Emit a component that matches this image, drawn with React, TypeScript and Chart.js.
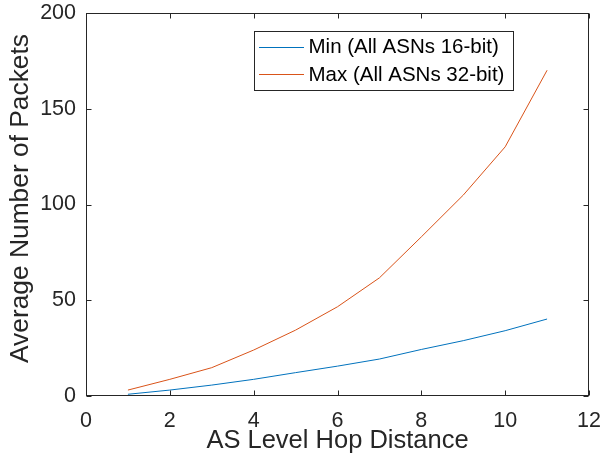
import React, { useEffect, useRef } from "react";
import { Chart, registerables } from "chart.js";

Chart.register(...registerables);

const hops = [1, 2, 3, 4, 5, 6, 7, 8, 9, 10, 11];
const minPackets = [0.9, 3.1, 5.7, 8.7, 12.2, 15.6, 19.3, 24.3, 28.9, 34.1, 40.2];
const maxPackets = [3.1, 8.7, 14.8, 24.0, 34.4, 46.6, 61.7, 83.1, 104.9, 130.1, 170.1];
const seriesLabels = ["Min (All ASNs 16-bit)", "Max (All ASNs 32-bit)"];
const seriesColors = ["#0072BD", "#D95319"];
const xTitle = "AS Level Hop Distance";
const yTitle = "Average Number of Packets";

const FONT = "'Liberation Sans', Arial, Helvetica, sans-serif";
const AX = "#262626";

const frameAndLegend = {
  id: "frameAndLegend",
  afterDraw(chart: any) {
    const ctx = chart.ctx;
    const a = chart.chartArea;
    const L = Math.round(a.left) + 0.5;
    const R = Math.round(a.right) - 0.5;
    const T = Math.round(a.top) + 0.5;
    const B = Math.round(a.bottom) - 0.5;
    ctx.save();
    ctx.strokeStyle = AX;
    ctx.lineWidth = 1;
    ctx.strokeRect(L, T, R - L, B - T);
    const tl = 5;
    const xs = chart.scales.x;
    const ys = chart.scales.y;
    ctx.beginPath();
    xs.ticks.forEach((t: any) => {
      const px = Math.round(xs.getPixelForValue(t.value)) + 0.5;
      ctx.moveTo(px, B);
      ctx.lineTo(px, B - tl);
      ctx.moveTo(px, T);
      ctx.lineTo(px, T + tl);
    });
    ys.ticks.forEach((t: any) => {
      const py = Math.round(ys.getPixelForValue(t.value)) + 0.5;
      ctx.moveTo(L, py);
      ctx.lineTo(L + tl, py);
      ctx.moveTo(R, py);
      ctx.lineTo(R - tl, py);
    });
    ctx.stroke();

    // y-axis title
    ctx.save();
    ctx.font = `26px ${FONT}`;
    ctx.fillStyle = AX;
    ctx.textAlign = "center";
    ctx.textBaseline = "alphabetic";
    const w = ctx.measureText(yTitle).width;
    const k = w > 0 ? Math.min(1.03, Math.max(0.97, 329 / w)) : 1;
    ctx.translate(27.5, 198.5);
    ctx.rotate(-Math.PI / 2);
    ctx.scale(k, 1);
    ctx.fillText(yTitle, 0, 0);
    ctx.restore();

    // legend box
    const bx = 254.5, by = 31.5, bw = 259, bh = 59;
    ctx.fillStyle = "#ffffff";
    ctx.fillRect(bx, by, bw, bh);
    ctx.strokeStyle = AX;
    ctx.strokeRect(bx, by, bw, bh);
    ctx.font = `20.5px ${FONT}`;
    ctx.textBaseline = "middle";
    ctx.textAlign = "left";
    chart.data.datasets.forEach((ds: any, i: number) => {
      const yy = 46.5 + i * 27.5;
      ctx.strokeStyle = ds.borderColor;
      ctx.lineWidth = 1;
      ctx.beginPath();
      ctx.moveTo(259, Math.round(yy) + 0.5);
      ctx.lineTo(304, Math.round(yy) + 0.5);
      ctx.stroke();
      ctx.fillStyle = "#000000";
      ctx.fillText(ds.label, 308.5, yy + 1);
    });
    ctx.restore();
  },
};

const zeroPad = (s: any) => {
  s.paddingTop = 0;
  s.paddingBottom = 0;
  s.paddingLeft = 0;
  s.paddingRight = 0;
};

export default function App() {
  const ref = useRef<HTMLCanvasElement | null>(null);
  useEffect(() => {
    if (!ref.current) return;
    const chart = new Chart(ref.current, {
      type: "line",
      data: {
        datasets: [
          {
            label: seriesLabels[0],
            data: hops.map((h, i) => ({ x: h, y: minPackets[i] })),
            borderColor: seriesColors[0],
            backgroundColor: seriesColors[0],
            borderWidth: 1,
            pointRadius: 0,
            tension: 0,
          },
          {
            label: seriesLabels[1],
            data: hops.map((h, i) => ({ x: h, y: maxPackets[i] })),
            borderColor: seriesColors[1],
            backgroundColor: seriesColors[1],
            borderWidth: 1,
            pointRadius: 0,
            tension: 0,
          },
        ],
      },
      options: {
        responsive: false,
        animation: false,
        layout: { autoPadding: false, padding: { top: 13, right: 21, left: 0, bottom: 0 } },
        plugins: {
          legend: { display: false },
          tooltip: { enabled: false },
        },
        scales: {
          x: {
            type: "linear",
            min: 0,
            max: 12,
            grid: { display: false, drawTicks: false },
            border: { display: false },
            ticks: {
              stepSize: 2,
              padding: 12,
              color: AX,
              font: { family: FONT, size: 21.5 },
              maxRotation: 0,
            },
            title: {
              display: true,
              text: xTitle,
              color: AX,
              font: { family: FONT, size: 25.5 },
              padding: { top: 14, bottom: 14 },
            },
            afterFit: (s: any) => {
              s.height = 74;
              zeroPad(s);
            },
          },
          y: {
            type: "linear",
            min: 0,
            max: 200,
            grid: { display: false, drawTicks: false },
            border: { display: false },
            ticks: {
              stepSize: 50,
              padding: 10,
              color: AX,
              font: { family: FONT, size: 21.5 },
            },
            title: { display: false, text: yTitle },
            afterFit: (s: any) => {
              s.width = 86;
              zeroPad(s);
            },
          },
        },
      },
      plugins: [frameAndLegend],
    });
    return () => chart.destroy();
  }, []);
  return (
    <div style={{ position: "absolute", left: 0, top: 0, width: 610, height: 470, background: "#fff" }}>
      <canvas ref={ref} width={610} height={470} style={{ display: "block" }} />
    </div>
  );
}
